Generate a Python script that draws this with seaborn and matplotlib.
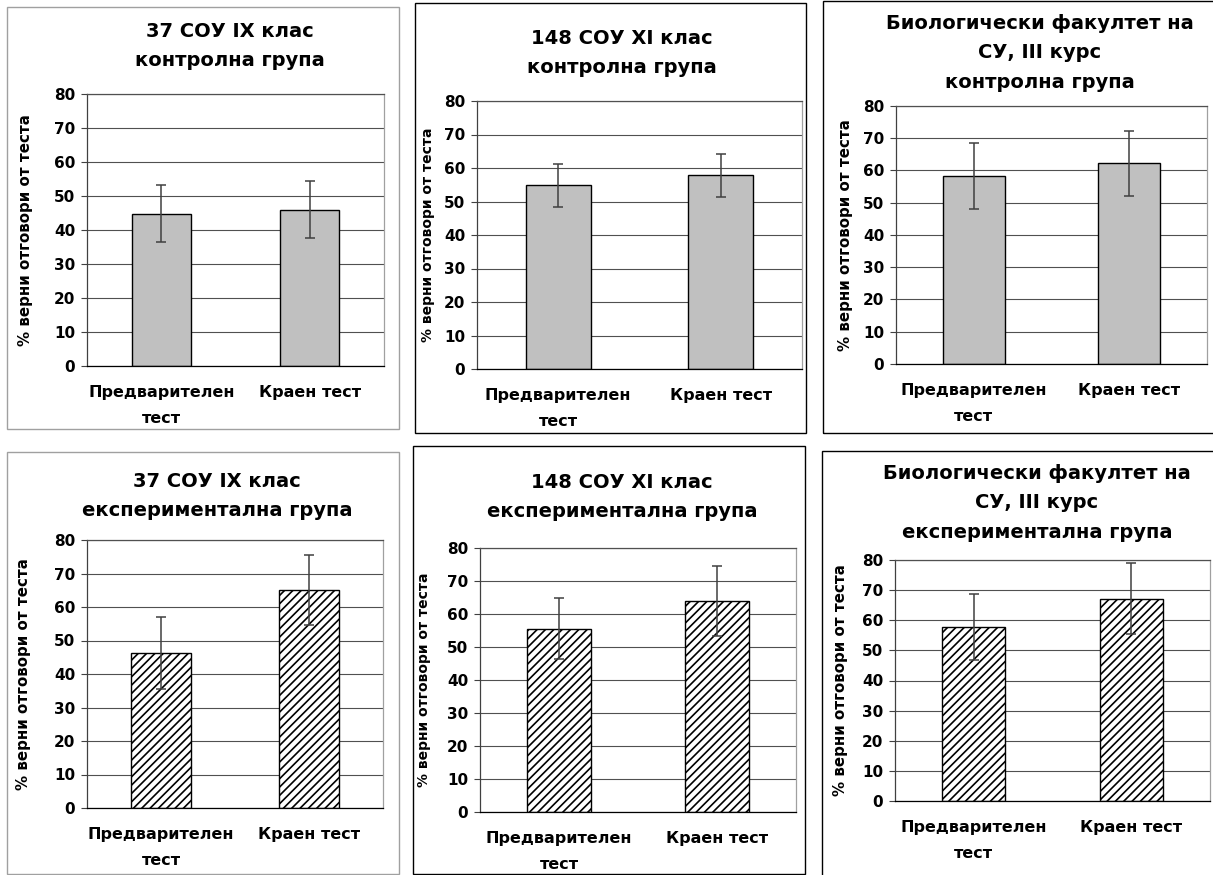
import matplotlib
matplotlib.use("Agg")
import matplotlib.pyplot as plt
from matplotlib.patches import Rectangle
import seaborn as sns
import pandas as pd

# ---------------- data ----------------
categories = ["Предварителен\nтест", "Краен тест"]

titles = [
    "37 СОУ IX клас\nконтролна група",
    "148 СОУ XI клас\nконтролна група",
    "Биологически факултет на\nСУ, III курс\nконтролна група",
    "37 СОУ IX клас\nекспериментална група",
    "148 СОУ XI клас\nекспериментална група",
    "Биологически факултет на\nСУ, III курс\nекспериментална група",
]

ylabel = "% верни отговори от теста"
yticks = [0, 10, 20, 30, 40, 50, 60, 70, 80]

mean_37_control = [44.8, 46.0]
sd_37_control = [8.4, 8.4]
mean_148_control = [54.8, 57.8]
sd_148_control = [6.4, 6.4]
mean_bio_control = [58.3, 62.2]
sd_bio_control = [10.2, 10.0]
mean_37_exp = [46.3, 65.0]
sd_37_exp = [10.7, 10.4]
mean_148_exp = [55.6, 63.8]
sd_148_exp = [9.3, 10.6]
mean_bio_exp = [57.8, 67.2]
sd_bio_exp = [11.0, 11.7]

means = [mean_37_control, mean_148_control, mean_bio_control,
         mean_37_exp, mean_148_exp, mean_bio_exp]
sds = [sd_37_control, sd_148_control, sd_bio_control,
       sd_37_exp, sd_148_exp, sd_bio_exp]

# ---------------- layout (pixels) ----------------
W, H = 1213, 875
# axes: left, right, top, bottom
axes_px = [
    (87, 384, 94, 366),
    (477, 802, 101, 369),
    (896, 1207, 106, 364),
    (87, 383, 540, 808),
    (480, 796, 548, 812),
    (895, 1210, 560, 801),
]
# panel borders: x0, x1, y0, y1, color
borders_px = [
    (7, 399, 7, 429, "#A0A0A0"),
    (415, 806, 3, 433, "#000000"),
    (823, 1220, 1, 433, "#000000"),
    (7, 399, 452, 874, "#A0A0A0"),
    (413, 805, 446, 874, "#000000"),
    (822, 1220, 451, 880, "#000000"),
]
# title centers
title_px = [(230, 46), (622, 53), (1040, 53), (217, 496), (622, 497), (1037, 503)]
# y-label centers (x)
ylab_px = [25, 427, 845, 23, 423, 840]
ylab_size = [10.8, 10.0, 10.8, 10.8, 10.0, 10.8]

sns.set_style("white")
plt.rcParams["font.family"] = ["DejaVu Sans"]
plt.rcParams["text.color"] = "black"
plt.rcParams["axes.labelcolor"] = "black"
plt.rcParams["xtick.color"] = "black"
plt.rcParams["ytick.color"] = "black"
plt.rcParams["hatch.linewidth"] = 1.2
plt.rcParams["hatch.color"] = "black"

fig = plt.figure(figsize=(W / 100, H / 100), dpi=100)
fig.patch.set_facecolor("white")

for i in range(6):
    l, r, t, b = axes_px[i]
    ax = fig.add_axes([l / W, 1 - b / H, (r - l) / W, (b - t) / H])
    df = pd.DataFrame({"test": categories, "value": means[i]})
    hatched = i >= 3
    sns.barplot(data=df, x="test", y="value", ax=ax,
                color="white" if hatched else "#C0C0C0",
                saturation=1, width=0.4, edgecolor="black", linewidth=1.0,
                errorbar=None, hatch="////" if hatched else None, zorder=2)
    ax.errorbar(range(len(categories)), means[i], yerr=sds[i], fmt="none",
                ecolor="#404040", elinewidth=1.1, capsize=3.8, capthick=1.1,
                zorder=3)
    ax.set_xlim(-0.5, 1.5)
    ax.set_ylim(0, 80)
    ax.set_yticks(yticks)
    ax.yaxis.grid(True, color="#505050", linewidth=0.8, zorder=0)
    ax.xaxis.grid(False)
    ax.set_axisbelow(True)
    ax.set_xlabel("")
    ax.set_ylabel(ylabel, fontsize=ylab_size[i], fontweight="bold")
    ax.yaxis.set_label_coords((ylab_px[i] + 8 - l) / (r - l), 0.5)
    ax.tick_params(axis="y", which="both", left=True, length=4.5, width=0.8,
                   color="#404040", pad=4, labelsize=11)
    ax.tick_params(axis="x", length=0, pad=14, labelsize=11.5)
    for lab in ax.get_yticklabels():
        lab.set_fontweight("bold")
    for lab in ax.get_xticklabels():
        lab.set_fontweight("bold")
        lab.set_linespacing(1.85)
    ax.spines["left"].set_color("#404040")
    ax.spines["bottom"].set_color("#000000")
    ax.spines["top"].set_color("#505050")
    ax.spines["right"].set_color("#A0A0A0")
    for s in ax.spines.values():
        s.set_linewidth(0.9)

    cx, cy = title_px[i]
    fig.text(cx / W, 1 - cy / H, titles[i], ha="center", va="center",
             fontsize=14, fontweight="bold", linespacing=1.72)

    x0, x1, y0, y1, col = borders_px[i]
    fig.add_artist(Rectangle((x0 / W, 1 - y1 / H), (x1 - x0) / W, (y1 - y0) / H,
                             transform=fig.transFigure, fill=False,
                             edgecolor=col, linewidth=1.0))

fig.savefig("out.png", dpi=100, facecolor="white")
